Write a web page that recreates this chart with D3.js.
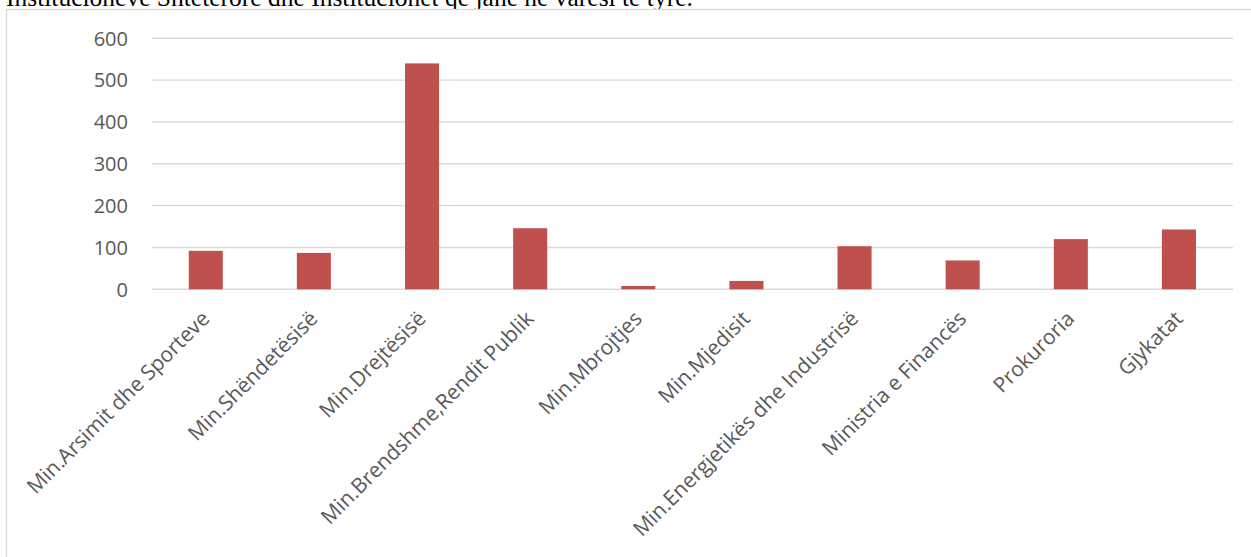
<!DOCTYPE html>
<html>
<head>
<meta charset="utf-8">
<script src="https://cdn.jsdelivr.net/npm/d3@7"></script>
<style>
  html, body { margin: 0; padding: 0; background: #ffffff; overflow: hidden; }
  svg { display: block; }
</style>
</head>
<body>
<div id="chart"></div>
<script>
// Data
const categories = [
  'Min.Arsimit dhe Sporteve',
  'Min.Shëndetësisë',
  'Min.Drejtësisë',
  'Min.Brendshme,Rendit Publik',
  'Min.Mbrojtjes',
  'Min.Mjedisit',
  'Min.Energjetikës dhe Industrisë',
  'Ministria e Financës',
  'Prokuroria',
  'Gjykatat'
];
const values = [92, 87, 540, 146, 8, 20, 103, 69, 120, 143];
const yTicks = [0, 100, 200, 300, 400, 500, 600];
const pageText = 'Institucioneve Shtetërore dhe Institucionet që janë në varësi të tyre.';

const width = 1251;
const height = 557;
const BAR_COLOUR = '#c0504d';
const GRID_COLOUR = '#d9d9d9';
const TEXT_COLOUR = '#595959';
const LABEL_FONT = '"Open Sans", sans-serif';

const svg = d3.select('#chart')
  .append('svg')
  .attr('width', width)
  .attr('height', height);

// Line of document text, cut off above the chart as in the source page
svg.append('text')
  .attr('x', 6)
  .attr('y', 5.5)
  .attr('font-family', '"Liberation Serif", "Times New Roman", serif')
  .attr('font-size', 25.5)
  .attr('fill', '#000000')
  .text(pageText);

// Chart frame (only top and left edges fall in view)
svg.append('rect')
  .attr('x', 6.5)
  .attr('y', 9.5)
  .attr('width', 1400)
  .attr('height', 700)
  .attr('fill', '#ffffff')
  .attr('stroke', GRID_COLOUR)
  .attr('stroke-width', 1.3);

const x = d3.scaleBand()
  .domain(categories)
  .range([151.7, 1233])
  .paddingInner(0.685)
  .paddingOuter(0.3425);

const y = d3.scaleLinear()
  .domain([0, 600])
  .range([289.3, 38.3]);

// Gridlines
svg.append('g')
  .selectAll('line')
  .data(yTicks)
  .enter()
  .append('line')
  .attr('x1', 151.7)
  .attr('x2', 1233)
  .attr('y1', d => y(d))
  .attr('y2', d => y(d))
  .attr('stroke', GRID_COLOUR)
  .attr('stroke-width', 1.4);

// Y axis labels
svg.append('g')
  .selectAll('text')
  .data(yTicks)
  .enter()
  .append('text')
  .attr('x', 128)
  .attr('y', d => y(d))
  .attr('dy', '0.36em')
  .attr('text-anchor', 'end')
  .attr('font-family', LABEL_FONT)
  .attr('font-size', 20)
  .attr('fill', TEXT_COLOUR)
  .text(d => d);

// Bars
svg.append('g')
  .selectAll('rect')
  .data(values)
  .enter()
  .append('rect')
  .attr('x', (d, i) => x(categories[i]))
  .attr('y', d => y(d))
  .attr('width', x.bandwidth())
  .attr('height', d => y(0) - y(d))
  .attr('fill', BAR_COLOUR);

// Rotated category labels, text ends just under each bar
svg.append('g')
  .selectAll('text')
  .data(categories)
  .enter()
  .append('text')
  .attr('transform', d => `translate(${x(d) + x.bandwidth() / 2 + 5}, 320) rotate(-45)`)
  .attr('text-anchor', 'end')
  .attr('font-family', LABEL_FONT)
  .attr('font-size', 21)
  .attr('fill', TEXT_COLOUR)
  .text(d => d);
</script>
</body>
</html>
